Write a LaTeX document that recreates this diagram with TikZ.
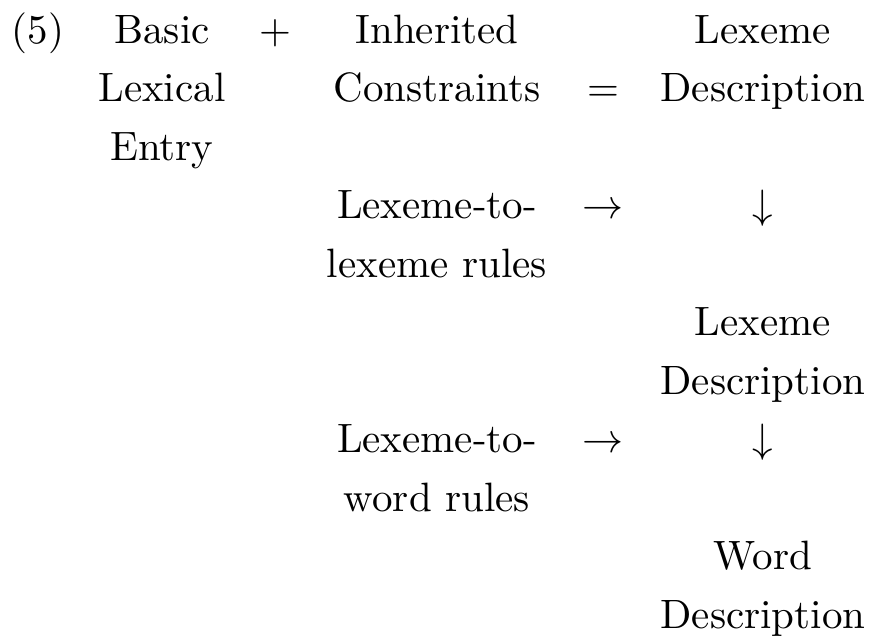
\documentclass[tikz,border=0pt]{standalone}
\begin{document}
\begin{tikzpicture}[x=1pt,y=-1pt,
  txt/.style={anchor=base,inner sep=0pt,scale=4.1,font=\fontsize{10}{12}\selectfont}]
\useasboundingbox (0,0) rectangle (873,638);
\node[txt] (n5) at (38,43) {(5)};
\node[txt] (basic) at (162,43) {Basic};
\node[txt] (plus) at (275,43) {$+$};
\node[txt] (inh) at (437,43) {Inherited};
\node[txt] (lex1) at (763,43) {Lexeme};
\node[txt] (lexical) at (162,101.5) {Lexical};
\node[txt] (constr) at (437,101.5) {Constraints};
\node[txt] (eq) at (603,101.5) {$=$};
\node[txt] (desc1) at (763,101.5) {Description};
\node[txt] (entry) at (162,160) {Entry};
\node[txt] (ltl1) at (437,218.5) {Lexeme-to-};
\node[txt] (ra1) at (603,218.5) {$\rightarrow$};
\node[txt] (da1) at (763,218.5) {$\downarrow$};
\node[txt] (ltl2) at (437,277) {lexeme rules};
\node[txt] (lex2) at (763,335.5) {Lexeme};
\node[txt] (desc2) at (763,394) {Description};
\node[txt] (ltw1) at (437,452.5) {Lexeme-to-};
\node[txt] (ra2) at (603,452.5) {$\rightarrow$};
\node[txt] (da2) at (763,452.5) {$\downarrow$};
\node[txt] (ltw2) at (437,511) {word rules};
\node[txt] (word) at (763,569.5) {Word};
\node[txt] (desc3) at (763,628) {Description};
\end{tikzpicture}
\end{document}
